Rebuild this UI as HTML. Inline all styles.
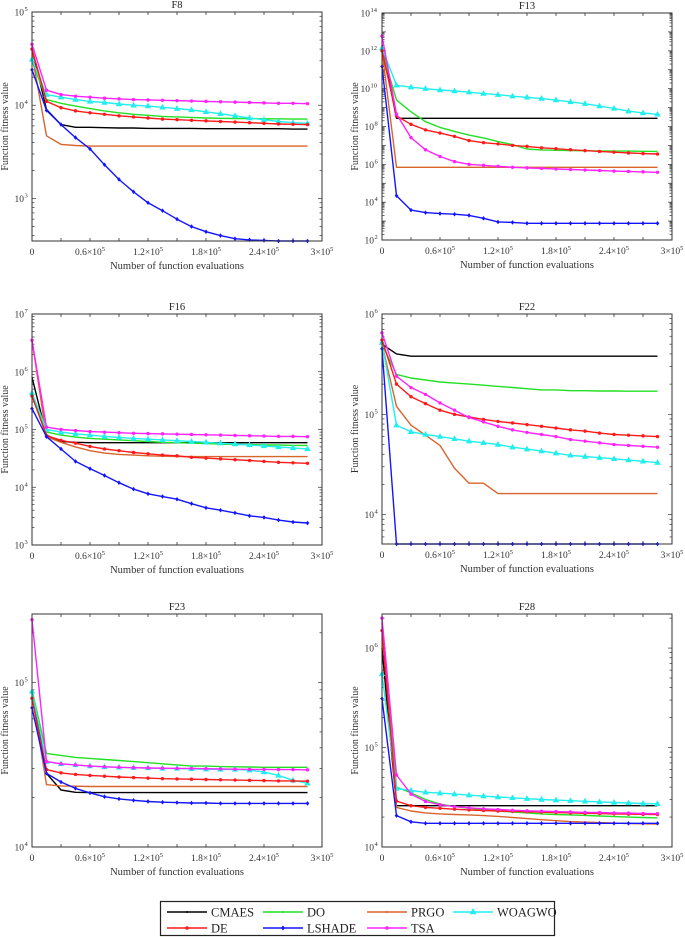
<!DOCTYPE html>
<html><head><meta charset="utf-8"><style>
body{margin:0;background:#fff;}
svg{display:block;font-family:"Liberation Serif",serif;}
</style></head><body>
<svg id="fig" width="685" height="937" viewBox="0 0 685 937"></svg>
<script>
const evals = [0,15000,30000,45000,60000,75000,90000,105000,120000,135000,150000,165000,180000,195000,210000,225000,240000,255000,270000,285000];
const xTickVals = [0,30000,60000,90000,120000,150000,180000,210000,240000,270000,300000];
const xTickLabels = ["0","","0.6","","1.2","","1.8","","2.4","","3"];
const seriesNames = ["CMAES","DO","PRGO","WOAGWO","DE","LSHADE","TSA"];

const f8_CMAES=[40000,9000,6200,5800,5800,5750,5700,5700,5650,5650,5650,5650,5600,5600,5600,5600,5600,5600,5550,5550];
const f8_DO=[30000,11500,10500,9800,9200,8700,8300,8000,7800,7600,7500,7400,7300,7250,7200,7200,7150,7150,7100,7100];
const f8_PRGO=[35000,4700,3800,3700,3650,3650,3650,3650,3650,3650,3650,3650,3650,3650,3650,3650,3650,3650,3650,3650];
const f8_WOAGWO=[31000,13000,12200,11500,11000,10700,10300,10000,9800,9500,9200,8900,8500,8100,7700,7300,7000,6700,6500,6400];
const f8_DE=[40000,11000,9400,8700,8300,8000,7700,7500,7300,7100,7000,6900,6800,6700,6600,6500,6400,6300,6250,6200];
const f8_LSHADE=[24000,8800,6200,4500,3400,2300,1600,1180,900,740,600,500,440,400,370,360,355,350,350,350];
const f8_TSA=[45000,14500,13000,12500,12200,11900,11700,11500,11400,11300,11200,11100,11000,10900,10800,10700,10600,10500,10500,10400];

const f13_CMAES=[2e12,2.7e8,2.7e8,2.7e8,2.7e8,2.7e8,2.7e8,2.7e8,2.7e8,2.7e8,2.7e8,2.7e8,2.7e8,2.7e8,2.7e8,2.7e8,2.7e8,2.7e8,2.7e8,2.7e8];
const f13_DO=[1e12,2.5e9,6e8,1.8e8,9e7,5.5e7,3.5e7,2.5e7,1.6e7,1.1e7,6.5e6,5.8e6,5.5e6,5.3e6,5.2e6,5.1e6,5e6,5e6,4.9e6,4.8e6];
const f13_PRGO=[1e12,7e5,7e5,7e5,7e5,7e5,7e5,7e5,7e5,7e5,7e5,7e5,7e5,7e5,7e5,7e5,7e5,7e5,7e5,7e5];
const f13_WOAGWO=[1.4e12,1.5e10,1.2e10,1e10,8.5e9,7.5e9,6.5e9,5.5e9,4.8e9,4e9,3.5e9,3e9,2.5e9,2e9,1.6e9,1.2e9,9e8,6.5e8,5.2e8,4.4e8];
const f13_DE=[1e12,3.6e8,1.3e8,6.6e7,4.5e7,3e7,1.8e7,1.4e7,1.2e7,1e7,8.9e6,7.5e6,6.7e6,5.9e6,5.3e6,4.8e6,4.4e6,4e6,3.7e6,3.5e6];
const f13_LSHADE=[1.5e11,2.2e4,3.8e3,2.8e3,2.5e3,2.3e3,2e3,1.4e3,9e2,8.5e2,7.6e2,7.6e2,7.6e2,7.6e2,7.6e2,7.6e2,7.6e2,7.6e2,7.6e2,7.6e2];
const f13_TSA=[6e12,4.5e8,2.6e7,5.9e6,2.6e6,1.4e6,1e6,8.9e5,7.9e5,7e5,6.5e5,6.1e5,5.7e5,5.3e5,5e5,4.7e5,4.4e5,4.2e5,4e5,3.8e5];

const f16_CMAES=[8e5,8e4,6.2e4,6e4,5.9e4,5.9e4,5.9e4,5.9e4,5.9e4,5.9e4,5.9e4,5.9e4,5.9e4,5.9e4,5.9e4,5.9e4,5.9e4,5.9e4,5.9e4,5.9e4];
const f16_DO=[4e5,9e4,8e4,7.4e4,7e4,6.8e4,6.6e4,6.4e4,6.2e4,6e4,5.9e4,5.8e4,5.7e4,5.6e4,5.5e4,5.5e4,5.4e4,5.4e4,5.3e4,5.3e4];
const f16_PRGO=[3.5e6,7.5e4,6e4,5e4,4.3e4,3.9e4,3.7e4,3.6e4,3.5e4,3.45e4,3.4e4,3.4e4,3.4e4,3.4e4,3.4e4,3.4e4,3.4e4,3.4e4,3.4e4,3.4e4];
const f16_WOAGWO=[4.3e5,1e5,9e4,8.4e4,8e4,7.6e4,7.3e4,7e4,6.8e4,6.6e4,6.4e4,6.2e4,6e4,5.8e4,5.6e4,5.4e4,5.2e4,5e4,4.8e4,4.6e4];
const f16_DE=[3.8e5,7.8e4,6.5e4,5.8e4,5.1e4,4.6e4,4.3e4,4e4,3.8e4,3.6e4,3.5e4,3.3e4,3.2e4,3.1e4,3e4,2.9e4,2.8e4,2.7e4,2.65e4,2.6e4];
const f16_LSHADE=[2.3e5,7.5e4,4.6e4,2.8e4,2.1e4,1.6e4,1.2e4,9.3e3,7.7e3,6.9e3,6.2e3,5.2e3,4.4e3,4e3,3.6e3,3.2e3,3e3,2.7e3,2.5e3,2.4e3];
const f16_TSA=[3.5e6,1.1e5,1e5,9.6e4,9.2e4,9e4,8.8e4,8.6e4,8.5e4,8.4e4,8.3e4,8.2e4,8.1e4,8e4,7.9e4,7.8e4,7.7e4,7.6e4,7.6e4,7.5e4];

const f22_CMAES=[5e5,4e5,3.8e5,3.8e5,3.8e5,3.8e5,3.8e5,3.8e5,3.8e5,3.8e5,3.8e5,3.8e5,3.8e5,3.8e5,3.8e5,3.8e5,3.8e5,3.8e5,3.8e5,3.8e5];
const f22_DO=[5e5,2.5e5,2.3e5,2.2e5,2.1e5,2.05e5,2e5,1.95e5,1.9e5,1.85e5,1.8e5,1.75e5,1.75e5,1.72e5,1.72e5,1.71e5,1.71e5,1.7e5,1.7e5,1.7e5];
const f22_PRGO=[5e5,1.2e5,7.8e4,6.2e4,4.9e4,2.9e4,2.06e4,2.06e4,1.62e4,1.62e4,1.62e4,1.62e4,1.62e4,1.62e4,1.62e4,1.62e4,1.62e4,1.62e4,1.62e4,1.62e4];
const f22_WOAGWO=[5.2e5,7.8e4,6.7e4,6.3e4,6e4,5.7e4,5.4e4,5.2e4,5e4,4.7e4,4.5e4,4.3e4,4.1e4,3.9e4,3.8e4,3.7e4,3.6e4,3.5e4,3.4e4,3.3e4];
const f22_DE=[5.5e5,2e5,1.5e5,1.28e5,1.1e5,1e5,9.4e4,8.9e4,8.5e4,8.2e4,7.9e4,7.6e4,7.3e4,7e4,6.8e4,6.5e4,6.3e4,6.2e4,6.1e4,6e4];
const f22_LSHADE=[4.5e5,5.1e3,5.1e3,5.1e3,5.1e3,5.1e3,5.1e3,5.1e3,5.1e3,5.1e3,5.1e3,5.1e3,5.1e3,5.1e3,5.1e3,5.1e3,5.1e3,5.1e3,5.1e3,5.1e3];
const f22_TSA=[6.5e5,2.4e5,1.85e5,1.58e5,1.3e5,1.1e5,9.3e4,8.4e4,7.6e4,7e4,6.6e4,6.3e4,6e4,5.6e4,5.4e4,5.2e4,5e4,4.9e4,4.8e4,4.7e4];

const f23_CMAES=[9e4,2.8e4,2.22e4,2.15e4,2.14e4,2.14e4,2.14e4,2.14e4,2.14e4,2.14e4,2.14e4,2.14e4,2.14e4,2.14e4,2.14e4,2.14e4,2.14e4,2.14e4,2.14e4,2.14e4];
const f23_DO=[9e4,3.7e4,3.6e4,3.5e4,3.45e4,3.4e4,3.35e4,3.3e4,3.25e4,3.2e4,3.15e4,3.1e4,3.1e4,3.08e4,3.07e4,3.06e4,3.05e4,3.05e4,3.05e4,3.05e4];
const f23_PRGO=[8.5e4,2.39e4,2.35e4,2.34e4,2.33e4,2.33e4,2.33e4,2.33e4,2.33e4,2.33e4,2.33e4,2.33e4,2.33e4,2.33e4,2.33e4,2.33e4,2.33e4,2.33e4,2.33e4,2.33e4];
const f23_WOAGWO=[8.8e4,3.3e4,3.2e4,3.15e4,3.1e4,3.07e4,3.05e4,3.03e4,3.02e4,3e4,3e4,2.98e4,2.97e4,2.96e4,2.96e4,2.93e4,2.85e4,2.72e4,2.54e4,2.44e4];
const f23_DE=[8e4,2.95e4,2.82e4,2.76e4,2.72e4,2.69e4,2.66e4,2.64e4,2.62e4,2.6e4,2.59e4,2.58e4,2.57e4,2.56e4,2.55e4,2.54e4,2.53e4,2.52e4,2.52e4,2.51e4];
const f23_LSHADE=[7e4,2.8e4,2.48e4,2.27e4,2.13e4,2.02e4,1.96e4,1.92e4,1.89e4,1.87e4,1.86e4,1.85e4,1.85e4,1.84e4,1.84e4,1.84e4,1.84e4,1.84e4,1.84e4,1.84e4];
const f23_TSA=[2.4e5,3.3e4,3.2e4,3.15e4,3.1e4,3.07e4,3.05e4,3.03e4,3.02e4,3.01e4,3e4,3e4,2.99e4,2.98e4,2.97e4,2.96e4,2.96e4,2.95e4,2.95e4,2.94e4];

const f28_CMAES=[1e6,2.6e4,2.6e4,2.6e4,2.6e4,2.6e4,2.6e4,2.6e4,2.6e4,2.6e4,2.6e4,2.6e4,2.6e4,2.6e4,2.6e4,2.6e4,2.6e4,2.6e4,2.6e4,2.6e4];
const f28_DO=[1.5e6,4e4,3.5e4,3e4,2.7e4,2.55e4,2.45e4,2.38e4,2.3e4,2.25e4,2.2e4,2.15e4,2.12e4,2.1e4,2.08e4,2.05e4,2.02e4,2e4,1.98e4,1.96e4];
const f28_PRGO=[1.8e6,2.5e4,2.3e4,2.2e4,2.15e4,2.12e4,2.1e4,2.07e4,2.03e4,1.98e4,1.93e4,1.88e4,1.84e4,1.8e4,1.78e4,1.76e4,1.74e4,1.72e4,1.71e4,1.7e4];
const f28_WOAGWO=[5.5e5,3.88e4,3.7e4,3.55e4,3.48e4,3.4e4,3.32e4,3.25e4,3.18e4,3.12e4,3.06e4,3e4,2.96e4,2.92e4,2.88e4,2.84e4,2.8e4,2.77e4,2.74e4,2.72e4];
const f28_DE=[1.5e6,2.9e4,2.6e4,2.5e4,2.45e4,2.4e4,2.36e4,2.33e4,2.3e4,2.28e4,2.26e4,2.24e4,2.22e4,2.2e4,2.18e4,2.17e4,2.15e4,2.14e4,2.13e4,2.12e4];
const f28_LSHADE=[3.1e5,2.07e4,1.79e4,1.73e4,1.73e4,1.73e4,1.73e4,1.73e4,1.73e4,1.73e4,1.73e4,1.73e4,1.73e4,1.73e4,1.73e4,1.73e4,1.73e4,1.73e4,1.73e4,1.73e4];
const f28_TSA=[2e6,5.3e4,3.4e4,2.87e4,2.66e4,2.54e4,2.48e4,2.42e4,2.38e4,2.34e4,2.31e4,2.29e4,2.27e4,2.25e4,2.23e4,2.22e4,2.2e4,2.19e4,2.17e4,2.16e4];

const NS="http://www.w3.org/2000/svg";
const svg=document.getElementById('fig');
function mk(tag,attrs,parent){const e=document.createElementNS(NS,tag);for(const k in attrs)e.setAttribute(k,attrs[k]);(parent||svg).appendChild(e);return e;}
const colors={CMAES:"#000000",DO:"#22e022",PRGO:"#d9642a",WOAGWO:"#22eeee",DE:"#ff1a1a",LSHADE:"#1414ff",TSA:"#ff22ff"};
const markers={CMAES:null,DO:null,PRGO:null,WOAGWO:"tri",DE:"dot",LSHADE:"dia",TSA:"dot"};

const panels=[
 {title:"F8",x0:32,x1:322,y0:12,y1:241,lmin:Math.log10(350),lmax:5,dec:[3,4,5],data:{CMAES:f8_CMAES,DO:f8_DO,PRGO:f8_PRGO,WOAGWO:f8_WOAGWO,DE:f8_DE,LSHADE:f8_LSHADE,TSA:f8_TSA}},
 {title:"F13",x0:382,x1:672,y0:13,y1:240,lmin:2,lmax:14,dec:[2,4,6,8,10,12,14],data:{CMAES:f13_CMAES,DO:f13_DO,PRGO:f13_PRGO,WOAGWO:f13_WOAGWO,DE:f13_DE,LSHADE:f13_LSHADE,TSA:f13_TSA}},
 {title:"F16",x0:32,x1:322,y0:314,y1:545,lmin:3,lmax:7,dec:[3,4,5,6,7],data:{CMAES:f16_CMAES,DO:f16_DO,PRGO:f16_PRGO,WOAGWO:f16_WOAGWO,DE:f16_DE,LSHADE:f16_LSHADE,TSA:f16_TSA}},
 {title:"F22",x0:382,x1:672,y0:314,y1:544,lmin:Math.log10(5100),lmax:6,dec:[4,5,6],data:{CMAES:f22_CMAES,DO:f22_DO,PRGO:f22_PRGO,WOAGWO:f22_WOAGWO,DE:f22_DE,LSHADE:f22_LSHADE,TSA:f22_TSA}},
 {title:"F23",x0:32,x1:322,y0:614,y1:847,lmin:4,lmax:Math.log10(2.6e5),dec:[4,5],data:{CMAES:f23_CMAES,DO:f23_DO,PRGO:f23_PRGO,WOAGWO:f23_WOAGWO,DE:f23_DE,LSHADE:f23_LSHADE,TSA:f23_TSA}},
 {title:"F28",x0:382,x1:672,y0:614,y1:847,lmin:4,lmax:Math.log10(2.2e6),dec:[4,5,6],data:{CMAES:f28_CMAES,DO:f28_DO,PRGO:f28_PRGO,WOAGWO:f28_WOAGWO,DE:f28_DE,LSHADE:f28_LSHADE,TSA:f28_TSA}}
];

panels.forEach(p=>{
  const g=mk('g',{});
  
  
  const xs=v=>p.x0+(v/300000)*(p.x1-p.x0);
  const ys=v=>p.y1-(Math.log10(v)-p.lmin)/(p.lmax-p.lmin)*(p.y1-p.y0);
  const t=mk('text',{x:(p.x0+p.x1)/2,y:p.y0-4,'text-anchor':'middle','font-size':'10.5',fill:'#222'},g);
  t.textContent=p.title;
  
  
  xTickVals.forEach((v,i)=>{
    const x=xs(v);
    mk('line',{x1:x,x2:x,y1:p.y1,y2:p.y1-3,stroke:'#333','stroke-width':0.8},g);
    mk('line',{x1:x,x2:x,y1:p.y0,y2:p.y0+3,stroke:'#333','stroke-width':0.8},g);
    const lab=xTickLabels[i];
    if(lab!==""){
      const tx=mk('text',{x:x,y:p.y1+14,'text-anchor':'middle','font-size':'9.5',fill:'#333'},g);
      
      
      if(lab==="0"){tx.textContent="0";}
      else{tx.textContent=lab+"\u00d710";const s=mk('tspan',{dy:-4,'font-size':'6.5'},tx);s.textContent="5";}
    }
  });
  for(let d=Math.floor(p.lmin);d<=Math.ceil(p.lmax);d++){
    for(let m=1;m<10;m++){
      const l=d+Math.log10(m);
      if(l<p.lmin-1e-9||l>p.lmax+1e-9)continue;
      const y=p.y1-(l-p.lmin)/(p.lmax-p.lmin)*(p.y1-p.y0);
      const len=m===1?4:2.5;
      mk('line',{x1:p.x0,x2:p.x0+len,y1:y,y2:y,stroke:'#333','stroke-width':0.7},g);
      mk('line',{x1:p.x1,x2:p.x1-len,y1:y,y2:y,stroke:'#333','stroke-width':0.7},g);
    }
  }
  p.dec.forEach(d=>{
    const y=ys(Math.pow(10,d));
    const ex=String(d).length>1?9:5;
    const base=p.x0-3-ex;
    const tx=mk('text',{x:base,y:y+3.5,'text-anchor':'end','font-size':'9.5',fill:'#333'},g);
    
    
    tx.textContent="10";
    const sx=mk('text',{x:base+0.5,y:y-1,'text-anchor':'start','font-size':'6.5',fill:'#333'},g);
    
    
    sx.textContent=String(d);
  });
  const yl=mk('text',{x:0,y:0,transform:`translate(${p.x0-24},${(p.y0+p.y1)/2}) rotate(-90)`,'text-anchor':'middle','font-size':'10',fill:'#333'},g);
  yl.textContent="Function fitness value";
  
  
  const xl=mk('text',{x:(p.x0+p.x1)/2,y:p.y1+28,'text-anchor':'middle','font-size':'10.5',fill:'#333'},g);
  xl.textContent="Number of function evaluations";
  
  
  seriesNames.forEach(n=>{
    const vals=p.data[n];
    const sg=mk('g',{},g);
    
    
    const pts=vals.map((v,i)=>xs(evals[i]).toFixed(1)+','+ys(v).toFixed(1)).join(' ');
    const pl=mk('polyline',{points:pts,fill:'none',stroke:colors[n],'stroke-width':1.4,'stroke-linejoin':'round'},sg);
    
    
    const mt=markers[n];
    if(mt){
      vals.forEach((v,i)=>{
        const x=xs(evals[i]),y=ys(v);
        let m;
        if(mt==='tri')m=mk('polygon',{points:`${x},${y-3.5} ${x-3.2},${y+2.2} ${x+3.2},${y+2.2}`,fill:colors[n]},sg);
        else if(mt==='dia')m=mk('polygon',{points:`${x},${y-2.3} ${x+1.8},${y} ${x},${y+2.3} ${x-1.8},${y}`,fill:colors[n]},sg);
        else m=mk('circle',{cx:x,cy:y,r:1.7,fill:colors[n]},sg);
        
        
      });
    }
  });
  const box=mk('rect',{x:p.x0,y:p.y0,width:p.x1-p.x0,height:p.y1-p.y0,fill:'none',stroke:'#333','stroke-width':1},g);
  
  
});

const lg=mk('g',{});


mk('rect',{x:160.5,y:901.5,width:394,height:34,fill:'#fff',stroke:'#222','stroke-width':1.2},lg);
const legPos={CMAES:[167,912],DO:[263,912],PRGO:[367,912],WOAGWO:[453,912],DE:[167,928],LSHADE:[263,928],TSA:[367,928]};
seriesNames.forEach(n=>{
  const [x,y]=legPos[n];
  const e=mk('g',{},lg);
  
  
  mk('line',{x1:x,x2:x+40,y1:y,y2:y,stroke:colors[n],'stroke-width':1.6},e);
  const mt=markers[n];const cx=x+20;
  if(mt==='tri')mk('polygon',{points:`${cx},${y-4} ${cx-3.5},${y+2.3} ${cx+3.5},${y+2.3}`,fill:colors[n]},e);
  else if(mt==='dia')mk('polygon',{points:`${cx},${y-2.5} ${cx+2},${y} ${cx},${y+2.5} ${cx-2},${y}`,fill:colors[n]},e);
  else if(mt==='dot')mk('circle',{cx:cx,cy:y,r:1.8,fill:colors[n]},e);
  else mk('circle',{cx:cx,cy:y,r:1,fill:colors[n]},e);
  const t=mk('text',{x:x+44,y:y+4.5,'font-size':'12.5',fill:'#222'},e);
  t.textContent=n;
});
</script>
</body></html>
